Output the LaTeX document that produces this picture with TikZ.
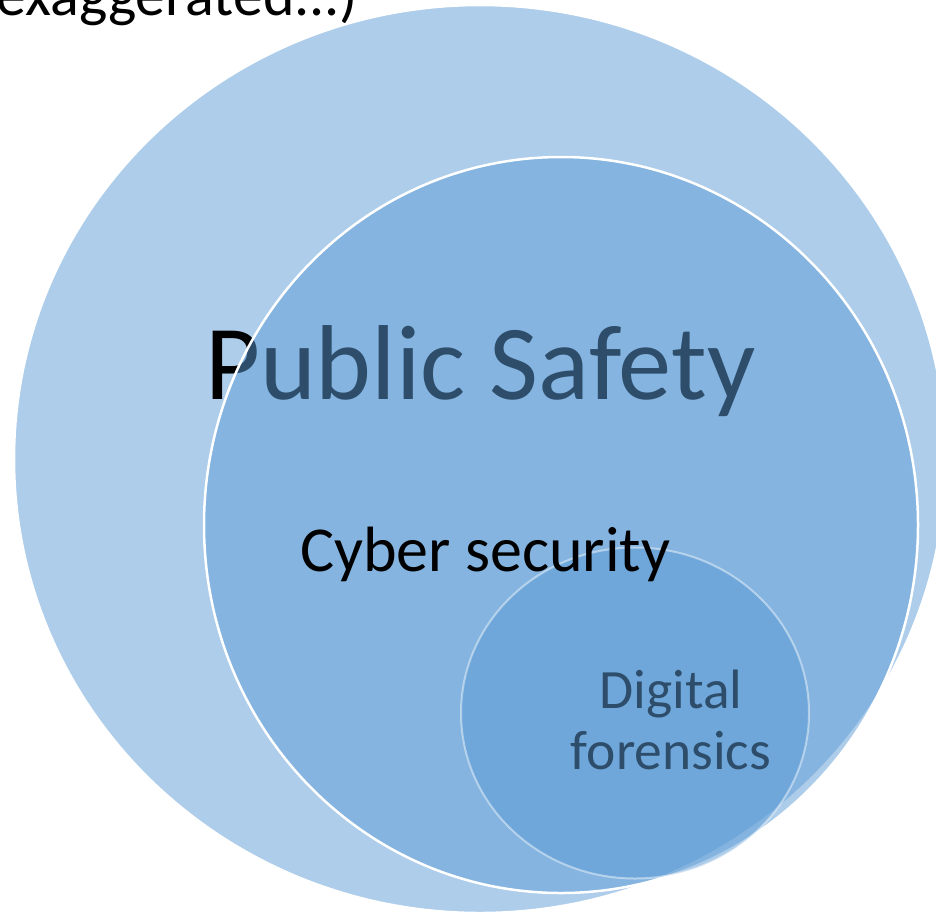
\documentclass[tikz,border=0pt]{standalone}
\usepackage{fontspec}
\setmainfont{Carlito}
\definecolor{accent}{HTML}{5B9BD5}
\tikzset{
  ring/.style={fill=accent,fill opacity=0.5,draw=white,line width=2.5pt},
  innerring/.style={fill=accent,fill opacity=0.5,draw=white,draw opacity=0.45,line width=2pt},
  lbl/.style={inner sep=0pt,outer sep=0pt,text=black}
}
\begin{document}
\begin{tikzpicture}[x=1pt,y=-1pt]
\useasboundingbox (0,0) rectangle (936,914);
\node[lbl,anchor=base east,font=\fontsize{60}{72}\selectfont] (exag) at (358,15) {exaggerated...)};
\draw[ring] (480,459) ellipse [x radius=466,y radius=454];
\node[lbl,anchor=base west,font=\fontsize{106.5}{128}\selectfont] (ps) at (205,399) {Public Safety};
\draw[ring] (561,525) ellipse [x radius=357,y radius=368];
\node[lbl,anchor=base,font=\fontsize{55.5}{61}\selectfont] (dig) at (671,708) {Digital};
\node[lbl,anchor=base,font=\fontsize{55.5}{61}\selectfont] (for) at (671,769) {forensics};
\draw[innerring] (635,713) ellipse [x radius=174,y radius=165.5];
\node[lbl,anchor=base west,font=\fontsize{64}{77}\selectfont] (cs) at (300,571) {Cyber security};
\end{tikzpicture}
\end{document}
